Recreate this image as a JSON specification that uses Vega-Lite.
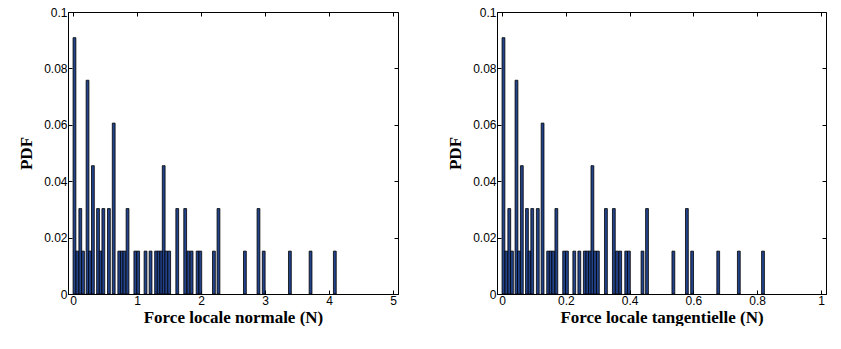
{
  "$schema": "https://vega.github.io/schema/vega-lite/v6.json",
  "background": "white",
  "padding": {"left": 17, "top": 5, "right": 0, "bottom": 0},
  "spacing": 47,
  "config": {
    "view": {"stroke": "black", "strokeWidth": 1},
    "axis": {
      "domainColor": "black",
      "tickColor": "black",
      "tickSize": -4,
      "labelFont": "Liberation Sans",
      "labelFontSize": 12,
      "labelColor": "black",
      "labelPadding": 5,
      "grid": false,
      "titleFont": "Liberation Serif",
      "titleFontWeight": "bold",
      "titleFontSize": 17,
      "titleColor": "black"
    }
  },
  "data": {
    "values": [
      {"fn": 0.023, "ft": 0.0046, "pdf": 0.0909},
      {"fn": 0.068, "ft": 0.0136, "pdf": 0.0152},
      {"fn": 0.114, "ft": 0.0228, "pdf": 0.0303},
      {"fn": 0.156, "ft": 0.0312, "pdf": 0.0152},
      {"fn": 0.227, "ft": 0.0454, "pdf": 0.0758},
      {"fn": 0.265, "ft": 0.053, "pdf": 0.0152},
      {"fn": 0.311, "ft": 0.0622, "pdf": 0.0455},
      {"fn": 0.391, "ft": 0.0782, "pdf": 0.0303},
      {"fn": 0.432, "ft": 0.0864, "pdf": 0.0152},
      {"fn": 0.474, "ft": 0.0948, "pdf": 0.0303},
      {"fn": 0.561, "ft": 0.1122, "pdf": 0.0303},
      {"fn": 0.636, "ft": 0.1272, "pdf": 0.0606},
      {"fn": 0.723, "ft": 0.1446, "pdf": 0.0152},
      {"fn": 0.762, "ft": 0.1524, "pdf": 0.0152},
      {"fn": 0.803, "ft": 0.1606, "pdf": 0.0152},
      {"fn": 0.852, "ft": 0.1704, "pdf": 0.0303},
      {"fn": 0.974, "ft": 0.1948, "pdf": 0.0152},
      {"fn": 1.018, "ft": 0.2036, "pdf": 0.0152},
      {"fn": 1.133, "ft": 0.2266, "pdf": 0.0152},
      {"fn": 1.212, "ft": 0.2424, "pdf": 0.0152},
      {"fn": 1.298, "ft": 0.2596, "pdf": 0.0152},
      {"fn": 1.338, "ft": 0.2676, "pdf": 0.0152},
      {"fn": 1.379, "ft": 0.2758, "pdf": 0.0152},
      {"fn": 1.417, "ft": 0.2834, "pdf": 0.0455},
      {"fn": 1.458, "ft": 0.2916, "pdf": 0.0152},
      {"fn": 1.503, "ft": 0.3006, "pdf": 0.0152},
      {"fn": 1.629, "ft": 0.3258, "pdf": 0.0303},
      {"fn": 1.753, "ft": 0.3506, "pdf": 0.0303},
      {"fn": 1.803, "ft": 0.3606, "pdf": 0.0152},
      {"fn": 1.853, "ft": 0.3706, "pdf": 0.0152},
      {"fn": 1.947, "ft": 0.3894, "pdf": 0.0152},
      {"fn": 1.989, "ft": 0.3978, "pdf": 0.0152},
      {"fn": 2.202, "ft": 0.4404, "pdf": 0.0152},
      {"fn": 2.273, "ft": 0.4546, "pdf": 0.0303},
      {"fn": 2.686, "ft": 0.5372, "pdf": 0.0152},
      {"fn": 2.898, "ft": 0.5796, "pdf": 0.0303},
      {"fn": 2.98, "ft": 0.596, "pdf": 0.0152},
      {"fn": 3.389, "ft": 0.6778, "pdf": 0.0152},
      {"fn": 3.712, "ft": 0.7424, "pdf": 0.0152},
      {"fn": 4.091, "ft": 0.8182, "pdf": 0.0152}
    ]
  },
  "hconcat": [
    {
      "width": 330,
      "height": 282,
      "layer": [
        {
          "mark": {"type": "bar", "size": 2.8, "fill": "#22428a", "stroke": "black", "strokeWidth": 0.8},
          "encoding": {
            "x": {"field": "fn", "type": "quantitative", "scale": {"domain": [0, 5], "nice": false},
              "axis": {"orient": "bottom", "values": [0, 1, 2, 3, 4, 5], "title": "Force locale normale (N)", "titlePadding": 3}},
            "y": {"field": "pdf", "type": "quantitative", "scale": {"domain": [0, 0.1], "nice": false},
              "axis": {"orient": "left", "values": [0, 0.02, 0.04, 0.06, 0.08, 0.1], "format": "~g", "title": "PDF", "titlePadding": 8}}
          }
        },
        {
          "mark": {"type": "bar", "size": 2.8, "opacity": 0},
          "encoding": {
            "x": {"field": "fn", "type": "quantitative",
              "axis": {"orient": "top", "values": [0, 1, 2, 3, 4, 5], "labels": false, "title": null, "domain": false, "minExtent": 0}},
            "y": {"field": "pdf", "type": "quantitative",
              "axis": {"orient": "right", "values": [0, 0.02, 0.04, 0.06, 0.08, 0.1], "labels": false, "title": null, "domain": false, "minExtent": 0}}
          }
        }
      ],
      "resolve": {"axis": {"x": "independent", "y": "independent"}}
    },
    {
      "width": 329,
      "height": 282,
      "layer": [
        {
          "mark": {"type": "bar", "size": 2.8, "fill": "#22428a", "stroke": "black", "strokeWidth": 0.8},
          "encoding": {
            "x": {"field": "ft", "type": "quantitative", "scale": {"domain": [0, 1], "nice": false},
              "axis": {"orient": "bottom", "values": [0, 0.2, 0.4, 0.6, 0.8, 1], "format": "~g", "title": "Force locale tangentielle (N)", "titlePadding": 3}},
            "y": {"field": "pdf", "type": "quantitative", "scale": {"domain": [0, 0.1], "nice": false},
              "axis": {"orient": "left", "values": [0, 0.02, 0.04, 0.06, 0.08, 0.1], "format": "~g", "title": "PDF", "titlePadding": 8}}
          }
        },
        {
          "mark": {"type": "bar", "size": 2.8, "opacity": 0},
          "encoding": {
            "x": {"field": "ft", "type": "quantitative",
              "axis": {"orient": "top", "values": [0, 0.2, 0.4, 0.6, 0.8, 1], "labels": false, "title": null, "domain": false, "minExtent": 0}},
            "y": {"field": "pdf", "type": "quantitative",
              "axis": {"orient": "right", "values": [0, 0.02, 0.04, 0.06, 0.08, 0.1], "labels": false, "title": null, "domain": false, "minExtent": 0}}
          }
        }
      ],
      "resolve": {"axis": {"x": "independent", "y": "independent"}}
    }
  ]
}
